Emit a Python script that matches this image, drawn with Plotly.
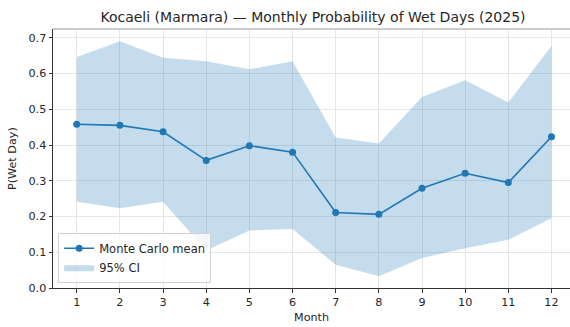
import plotly.graph_objects as go

months = [1, 2, 3, 4, 5, 6, 7, 8, 9, 10, 11, 12]
mean_p = [0.458, 0.455, 0.437, 0.357, 0.398, 0.380, 0.211, 0.206, 0.279, 0.321, 0.295, 0.423]
upper_ci = [0.646, 0.690, 0.644, 0.634, 0.612, 0.634, 0.421, 0.404, 0.534, 0.581, 0.519, 0.677]
lower_ci = [0.241, 0.223, 0.241, 0.105, 0.161, 0.165, 0.065, 0.033, 0.084, 0.111, 0.135, 0.195]
y_ticks = [0.0, 0.1, 0.2, 0.3, 0.4, 0.5, 0.6, 0.7]

W, H = 570, 327
L, R, T, B = 52.5, 0, 28.5, 38.5
FONT = "DejaVu Sans"
BLUE = "#1f77b4"
TXT = "#262626"

fig = go.Figure()
fig.add_trace(go.Scatter(x=months, y=lower_ci, mode="lines", line=dict(width=0),
                         showlegend=False, hoverinfo="skip"))
fig.add_trace(go.Scatter(x=months, y=upper_ci, mode="lines", line=dict(width=0),
                         fill="tonexty", fillcolor="rgba(31,119,180,0.26)",
                         name="95% CI", legendrank=2))
fig.add_trace(go.Scatter(x=months, y=mean_p, mode="lines+markers",
                         line=dict(color=BLUE, width=1.6),
                         marker=dict(color=BLUE, size=7),
                         name="Monte Carlo mean", legendrank=1))

fig.update_layout(
    width=W, height=H,
    margin=dict(l=L, r=R, t=T, b=B, pad=0),
    paper_bgcolor="white", plot_bgcolor="white",
    font=dict(family=FONT, size=11, color=TXT),
    title=dict(text="Kocaeli (Marmara) — Monthly Probability of Wet Days (2025)",
               x=313 / W, xanchor="center", xref="container",
               y=1 - 17 / H, yanchor="middle", yref="container",
               font=dict(family=FONT, size=14, color=TXT)),
    xaxis=dict(range=[0.45, 0.45 + (W - L) / 43.2], tickmode="array", tickvals=months,
               ticks="outside", ticklen=3.5, tickcolor="#333", showline=True,
               linecolor="#333", linewidth=1, showgrid=True, gridcolor="#e6e6e6",
               gridwidth=0.8, zeroline=False, tickfont=dict(size=11.2)),
    yaxis=dict(range=[0, 0.7245], tickmode="array", tickvals=y_ticks,
               ticktext=[f"{v:.1f}" for v in y_ticks],
               ticks="outside", ticklen=3.5, tickcolor="#333", showline=True,
               linecolor="#333", linewidth=1, showgrid=True, gridcolor="#e6e6e6",
               gridwidth=0.8, zeroline=False, tickfont=dict(size=11.2)),
    legend=dict(x=0.01, y=0.02, xanchor="left", yanchor="bottom", traceorder="normal",
                bgcolor="rgba(255,255,255,0.8)", bordercolor="#d0d0d0", borderwidth=1,
                font=dict(size=11.5, color=TXT), tracegroupgap=0,
                itemwidth=30),
    showlegend=True,
)

fig.add_shape(type="line", xref="paper", yref="paper", x0=0, x1=1, y0=1, y1=1,
              line=dict(color="#999999", width=1))

fig.add_annotation(text="Month", xref="paper", yref="paper", x=0.5, y=-(318 - (H - B)) / (H - T - B),
                   yanchor="middle", showarrow=False, font=dict(size=11.2, color=TXT))
fig.add_annotation(text="P(Wet Day)", xref="paper", yref="paper", x=-(L - 12) / (W - L - R), y=0.5,
                   xanchor="center", textangle=-90, showarrow=False,
                   font=dict(size=11.2, color=TXT))

fig.write_html("out.html")
